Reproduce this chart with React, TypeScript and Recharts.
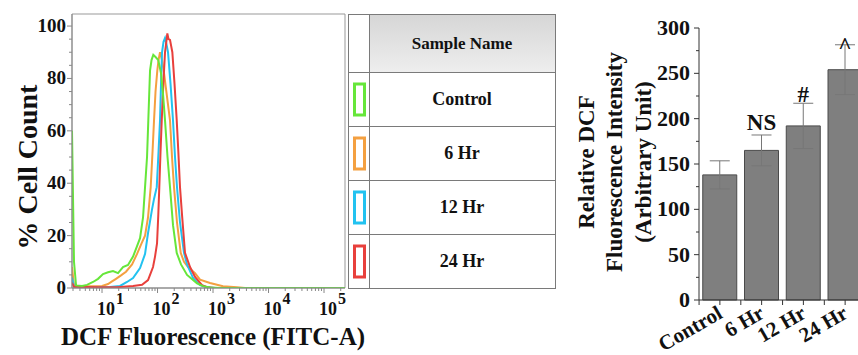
import {
    LineChart,
    Line,
    BarChart,
    Bar,
    XAxis,
    YAxis,
    ReferenceArea,
    ErrorBar,
    LabelList,
    Label,
} from 'recharts';

const FONT = "'Liberation Serif', 'Times New Roman', serif";

// histogram: x in log10(FITC-A), y in % of max
const controlLog = [0.459, 0.495, 0.532, 0.64, 0.73, 0.838, 0.928, 1.018, 1.108, 1.198, 1.288, 1.378, 1.468, 1.559, 1.631, 1.685, 1.739, 1.775, 1.811, 1.834, 1.865, 1.892, 1.924, 1.973, 2.014, 2.063, 2.099, 2.135, 2.18, 2.225, 2.279, 2.346, 2.423, 2.532, 2.712, 2.82, 2.946, 3.126, 5.378];
const controlPct = [60, 10, 1, 0.8, 1.2, 2.3, 3.5, 5.3, 6, 6.5, 5.7, 8, 8.8, 12, 16, 19, 27, 38.5, 50, 64, 83, 87, 89, 88, 87, 82, 74, 64, 50, 38.5, 24, 13.4, 9, 5, 1.8, 0.7, 0.2, 0, 0];

const hr6Log = [0.459, 0.495, 0.532, 0.784, 1.0, 1.108, 1.18, 1.252, 1.342, 1.432, 1.541, 1.631, 1.712, 1.775, 1.829, 1.877, 1.91, 1.937, 1.964, 1.996, 2.018, 2.045, 2.081, 2.117, 2.153, 2.189, 2.225, 2.261, 2.297, 2.351, 2.418, 2.477, 2.55, 2.676, 2.766, 2.946, 3.18, 3.432, 3.577, 5.378];
const hr6Pct = [8, 1, 0.5, 0.7, 0.8, 1.5, 2.5, 3.5, 4.8, 6.2, 9, 13, 17, 20, 27, 38.5, 52, 64, 75, 83, 87, 90, 87, 82, 76, 70, 64, 50, 38.5, 25, 13.4, 10, 8, 5.7, 3.2, 1.9, 0.7, 0.3, 0, 0];

const hr12Log = [0.459, 0.495, 0.784, 1.144, 1.324, 1.45, 1.559, 1.685, 1.775, 1.829, 1.901, 1.937, 1.986, 2.018, 2.045, 2.063, 2.081, 2.108, 2.135, 2.162, 2.189, 2.234, 2.279, 2.315, 2.351, 2.405, 2.477, 2.532, 2.64, 2.766, 2.892, 3.036, 5.378];
const hr12Pct = [4, 0.5, 0.3, 0.4, 0.8, 2.3, 3.8, 7.6, 13, 21, 30, 34, 38.5, 52, 64, 78, 90, 94, 95.4, 93, 90, 78, 64, 50, 38.5, 25, 13.4, 9, 3.8, 1.1, 0.3, 0, 0];

const hr24Log = [0.459, 0.495, 0.964, 1.27, 1.559, 1.721, 1.829, 1.919, 1.955, 1.991, 2.014, 2.032, 2.054, 2.076, 2.105, 2.135, 2.153, 2.177, 2.198, 2.225, 2.267, 2.306, 2.346, 2.375, 2.405, 2.441, 2.495, 2.586, 2.676, 2.802, 2.892, 3.036, 5.378];
const hr24Pct = [2, 0.5, 0.3, 0.3, 0.8, 1.2, 3, 8, 12, 17, 28, 38.5, 52, 64, 78, 90, 93, 97.2, 95, 94.7, 90, 78, 64, 52, 38.5, 28, 13.4, 8, 4.2, 1.1, 0.3, 0, 0];

const sampleNames = ['Control', '6 Hr', '12 Hr', '24 Hr'];
const sampleColors = ['#66e63a', '#f4a040', '#22c2f0', '#e8403c'];

const decades = [1, 2, 3, 4, 5];
const minorMultipliers = [2, 3, 4, 5, 6, 7, 8, 9];
const logDomain: [number, number] = [0.459, 5.378];
const pctDomain: [number, number] = [0, 104.6];
const pctTicks = Array.from({ length: 21 }, (_, i) => i * 5);

// bar chart
const barCategories = ['Control', '6 Hr', '12 Hr', '24 Hr'];
const barMeans = [138, 165, 192, 254];
const barSd = [15.5, 17, 25, 27.5];
const barMarks = ['', 'NS', '#', '^'];
const dcfTicks = Array.from({ length: 13 }, (_, i) => i * 25);
const dcfTitle = ['Relative DCF', 'Fluorescence Intensity', '(Arbitrary Unit)'];

const histSeries = [
    { log: controlLog, pct: controlPct },
    { log: hr6Log, pct: hr6Pct },
    { log: hr12Log, pct: hr12Pct },
    { log: hr24Log, pct: hr24Pct },
].map((s) => s.log.map((log, i) => ({ log, pct: s.pct[i] })));

const barData = barCategories.map((name, i) => ({
    name,
    mean: barMeans[i],
    sd: barSd[i],
    mark: barMarks[i],
}));

const xTicks = [0, ...decades]
    .flatMap((k) => [k, ...minorMultipliers.map((m) => k + Math.log10(m))])
    .filter((t) => t > logDomain[0] && t < logDomain[1]);

const markDy: Record<string, number> = { NS: -5, '#': -1, '^': 8 };

function HistYTick({ x, y, payload }: any) {
    const major = payload.value % 20 === 0;
    return (
        <g>
            <line x1={x} x2={x - (major ? 5 : 3)} y1={y} y2={y} stroke="#888" />
            {major && (
                <text x={x - 6} y={y + 6} textAnchor="end" fontFamily={FONT} fontWeight="bold" fontSize={19} fill="#111">
                    {payload.value}
                </text>
            )}
        </g>
    );
}

function HistXTick({ x, y, payload }: any) {
    const major = Math.abs(payload.value - Math.round(payload.value)) < 1e-6;
    return (
        <g>
            <line x1={x} x2={x} y1={y} y2={y + (major ? 5 : 3)} stroke="#888" />
            {major && (
                <text x={x - 5} y={y + 27} textAnchor="start" fontFamily={FONT} fontWeight="bold" fontSize={18} fill="#111">
                    <tspan>10</tspan>
                    <tspan dx={1} dy={-11} fontSize={16}>{Math.round(payload.value)}</tspan>
                </text>
            )}
        </g>
    );
}

function BarYTick({ x, y, payload }: any) {
    const major = payload.value % 50 === 0;
    return (
        <g>
            <line x1={x} x2={x - (major ? 5 : 3)} y1={y} y2={y} stroke="#333" />
            {major && (
                <text x={x - 9} y={y + 7} textAnchor="end" fontFamily={FONT} fontWeight="bold" fontSize={22} fill="#111">
                    {payload.value}
                </text>
            )}
        </g>
    );
}

function BarXTick({ x, y, payload }: any) {
    const half = 20.8;
    return (
        <g>
            <line x1={x} x2={x} y1={y} y2={y + 5} stroke="#333" />
            <line x1={x - half} x2={x - half} y1={y} y2={y + 5} stroke="#333" />
            <text
                x={x + 4}
                y={y + 17}
                textAnchor="end"
                transform={`rotate(-30, ${x + 4}, ${y + 17})`}
                fontFamily={FONT}
                fontWeight="bold"
                fontSize={21}
                fill="#111"
            >
                {payload.value}
            </text>
        </g>
    );
}

function MarkLabel(props: any) {
    const { x, y, width, height, index, value } = props;
    if (!value) return null;
    const errTop = y - (barSd[index] * height) / barMeans[index];
    return (
        <text
            x={x + width / 2}
            y={errTop + (markDy[value] ?? -4)}
            textAnchor="middle"
            fontFamily={FONT}
            fontWeight="bold"
            fontSize={23}
            fill="#111"
        >
            {value}
        </text>
    );
}

function SampleTable() {
    const width = 207;
    const header = 58;
    const row = 54;
    const col = 21;
    const height = header + row * sampleNames.length;
    return (
        <svg width={width + 1} height={height + 1} style={{ position: 'absolute', left: 348, top: 14 }}>
            <defs>
                <linearGradient id="hdr" x1="0" y1="0" x2="0" y2="1">
                    <stop offset="0%" stopColor="#d6d6d6" />
                    <stop offset="100%" stopColor="#eeeeee" />
                </linearGradient>
            </defs>
            <rect x={col + 0.5} y={0.5} width={width - col} height={header} fill="url(#hdr)" />
            <rect x={0.5} y={0.5} width={width} height={height} fill="none" stroke="#7a7a7a" />
            <line x1={col + 0.5} x2={col + 0.5} y1={0} y2={height} stroke="#7a7a7a" />
            <text x={(col + width) / 2} y={header / 2 + 6} textAnchor="middle" fontFamily={FONT} fontWeight="bold" fontSize={17} fill="#111">
                Sample Name
            </text>
            {sampleNames.map((name, i) => {
                const top = header + i * row;
                return (
                    <g key={name}>
                        <line x1={0} x2={width} y1={top + 0.5} y2={top + 0.5} stroke="#7a7a7a" />
                        <rect x={6.5} y={top + 12} width={10} height={31} fill="none" stroke={sampleColors[i]} strokeWidth={3} />
                        <text x={(col + width) / 2} y={top + row / 2 + 6} textAnchor="middle" fontFamily={FONT} fontWeight="bold" fontSize={18} fill="#111">
                            {name}
                        </text>
                    </g>
                );
            })}
        </svg>
    );
}

export default function App() {
    return (
        <div style={{ position: 'fixed', left: 0, top: 0, width: 858, height: 355, overflow: 'hidden', background: '#fff' }}>
            <div style={{ position: 'absolute', left: 0, top: 0 }}>
                <LineChart width={380} height={355} margin={{ top: 14, right: 35, left: 0, bottom: 0 }}>
                    <XAxis
                        type="number"
                        dataKey="log"
                        domain={logDomain}
                        ticks={xTicks}
                        allowDataOverflow
                        tick={<HistXTick />}
                        tickLine={false}
                        tickSize={0}
                        tickMargin={0}
                        interval={0}
                        height={67}
                        axisLine={{ stroke: '#888' }}
                    >
                        <Label
                            content={() => (
                                <text x={213} y={345} textAnchor="middle" fontFamily={FONT} fontWeight="bold" fontSize={25} fill="#111">
                                    DCF Fluorescence (FITC-A)
                                </text>
                            )}
                        />
                    </XAxis>
                    <YAxis
                        type="number"
                        domain={pctDomain}
                        ticks={pctTicks}
                        allowDataOverflow
                        tick={<HistYTick />}
                        tickLine={false}
                        tickSize={0}
                        tickMargin={0}
                        interval={0}
                        width={72}
                        axisLine={{ stroke: '#888' }}
                    >
                        <Label
                            content={() => (
                                <text
                                    x={27}
                                    y={167}
                                    textAnchor="middle"
                                    dominantBaseline="central"
                                    transform="rotate(-90, 27, 167)"
                                    fontFamily={FONT}
                                    fontWeight="bold"
                                    fontSize={28}
                                    fill="#111"
                                >
                                    % Cell Count
                                </text>
                            )}
                        />
                    </YAxis>
                    <ReferenceArea x1={logDomain[0]} x2={logDomain[1]} y1={pctDomain[0]} y2={pctDomain[1]} fill="none" stroke="#999" />
                    {[1, 2, 3, 0].map((i) => (
                        <Line
                            key={sampleNames[i]}
                            data={histSeries[i]}
                            dataKey="pct"
                            name={sampleNames[i]}
                            type="linear"
                            stroke={sampleColors[i]}
                            strokeWidth={2}
                            dot={false}
                            isAnimationActive={false}
                        />
                    ))}
                </LineChart>
            </div>

            <SampleTable />

            <div style={{ position: 'absolute', left: 560, top: 0 }}>
                <BarChart
                    width={320}
                    height={355}
                    data={barData}
                    margin={{ top: 28, right: 14, left: 0, bottom: 0 }}
                    barCategoryGap="9%"
                >
                    <XAxis
                        dataKey="name"
                        tick={<BarXTick />}
                        tickLine={false}
                        tickSize={0}
                        tickMargin={0}
                        interval={0}
                        height={55}
                        axisLine={{ stroke: '#333' }}
                    />
                    <YAxis
                        type="number"
                        domain={[0, 300]}
                        ticks={dcfTicks}
                        tick={<BarYTick />}
                        tickLine={false}
                        tickSize={0}
                        tickMargin={0}
                        interval={0}
                        width={139}
                        axisLine={{ stroke: '#333' }}
                    >
                        <Label
                            content={() => (
                                <g fontFamily={FONT} fontWeight="bold" fontSize={23} fill="#111">
                                    {dcfTitle.map((line, i) => {
                                        const cx = [26, 54, 83][i];
                                        return (
                                            <text
                                                key={line}
                                                x={cx}
                                                y={162}
                                                textAnchor="middle"
                                                dominantBaseline="central"
                                                transform={`rotate(-90, ${cx}, 162)`}
                                            >
                                                {line}
                                            </text>
                                        );
                                    })}
                                </g>
                            )}
                        />
                    </YAxis>
                    <Bar dataKey="mean" fill="#7f7f7f" stroke="#4a4a4a" strokeWidth={1} isAnimationActive={false}>
                        <ErrorBar dataKey="sd" width={10} stroke="#777" strokeWidth={1} />
                        <LabelList dataKey="mark" content={<MarkLabel />} />
                    </Bar>
                </BarChart>
            </div>
        </div>
    );
}
